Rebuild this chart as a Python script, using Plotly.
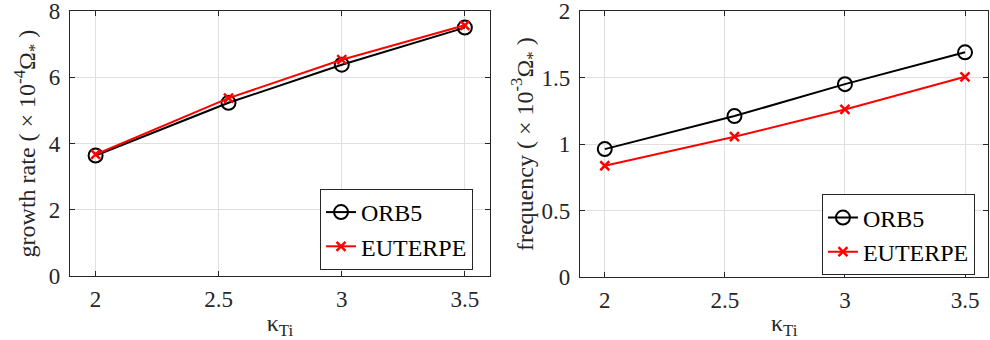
import plotly.graph_objects as go

kappa_ti = [2.0, 2.54, 3.0, 3.5]
growth_orb5 = [3.64, 5.23, 6.38, 7.50]
growth_euterpe = [3.67, 5.37, 6.53, 7.57]
freq_orb5 = [0.963, 1.211, 1.451, 1.690]
freq_euterpe = [0.838, 1.056, 1.261, 1.506]

x_ticks = [2, 2.5, 3, 3.5]
x_tick_labels = ["2", "2.5", "3", "3.5"]
y1_ticks = [0, 2, 4, 6, 8]
y2_ticks = [0, 0.5, 1, 1.5, 2]
y2_tick_labels = ["0", "0.5", "1", "1.5", "2"]

FONT = "Liberation Serif, Times New Roman, Times, serif"
AX = "#262626"
GRID = "#dfdfdf"
FS = 24
TFS = 23

fig = go.Figure()

orb5_style = dict(mode="lines+markers", line=dict(color="black", width=2),
                  marker=dict(symbol="circle-open", size=14, color="black",
                              line=dict(width=2, color="black")))
eut_style = dict(mode="lines+markers", line=dict(color="#ff0000", width=2),
                 marker=dict(symbol="x-thin-open", size=9, color="#ff0000",
                             line=dict(width=2.5, color="#ff0000")))

fig.add_trace(go.Scatter(x=kappa_ti, y=growth_orb5, name="ORB5", xaxis="x", yaxis="y",
                         legend="legend", **orb5_style))
fig.add_trace(go.Scatter(x=kappa_ti, y=growth_euterpe, name="EUTERPE", xaxis="x", yaxis="y",
                         legend="legend", **eut_style))
fig.add_trace(go.Scatter(x=kappa_ti, y=freq_orb5, name="ORB5", xaxis="x2", yaxis="y2",
                         legend="legend2", **orb5_style))
fig.add_trace(go.Scatter(x=kappa_ti, y=freq_euterpe, name="EUTERPE", xaxis="x2", yaxis="y2",
                         legend="legend2", **eut_style))

common_axis = dict(showline=True, linecolor=AX, linewidth=1.2, mirror="ticks",
                   ticks="inside", ticklen=5, tickwidth=1, tickcolor=AX,
                   showgrid=True, gridcolor=GRID, gridwidth=1, zeroline=False,
                   tickfont=dict(family=FONT, size=TFS, color=AX),
                   ticklabeloverflow="allow", automargin=False)

xtitle = dict(text="κ<sub>Ti</sub>", font=dict(family=FONT, size=FS, color=AX), standoff=5)

fig.update_layout(
    width=990, height=340,
    margin=dict(l=0, r=0, t=0, b=0),
    font=dict(family=FONT, size=FS, color=AX),
    paper_bgcolor="white", plot_bgcolor="white",
    xaxis=dict(domain=[0.0707, 0.4949], range=[1.896, 3.602], tickvals=x_ticks,
               ticktext=x_tick_labels, anchor="y", title=xtitle,
               ticklabelstandoff=2, **common_axis),
    yaxis=dict(domain=[0.188, 0.9676], range=[0, 8], tickvals=y1_ticks, anchor="x",
               title=dict(text="growth rate ( × 10<sup>-4</sup>Ω<sub>*</sub> )",
                          font=dict(family=FONT, size=FS, color=AX), standoff=6),
               ticklabelstandoff=4, **common_axis),
    xaxis2=dict(domain=[0.5859, 0.9983], range=[1.897, 3.597], tickvals=x_ticks,
                ticktext=x_tick_labels, anchor="y2", title=xtitle,
                ticklabelstandoff=2, **common_axis),
    yaxis2=dict(domain=[0.1843, 0.9676], range=[0, 2], tickvals=y2_ticks,
                ticktext=y2_tick_labels, anchor="x2",
                title=dict(text="frequency ( × 10<sup>-3</sup>Ω<sub>*</sub> )",
                           font=dict(family=FONT, size=FS, color=AX), standoff=1),
                ticklabelstandoff=4, **common_axis),
    legend=dict(x=0.4778, y=0.325, xanchor="right", yanchor="middle",
                bgcolor="white", bordercolor=AX, borderwidth=1,
                font=dict(family=FONT, size=FS, color="black"),
                tracegroupgap=0, itemwidth=30),
    legend2=dict(x=0.9848, y=0.309, xanchor="right", yanchor="middle",
                 bgcolor="white", bordercolor=AX, borderwidth=1,
                 font=dict(family=FONT, size=FS, color="black"),
                 tracegroupgap=0, itemwidth=30),
    showlegend=True,
)

fig.write_html("out.html", config={"displayModeBar": False},
               post_script="document.body.style.margin='0px';document.body.style.overflow='hidden';")
